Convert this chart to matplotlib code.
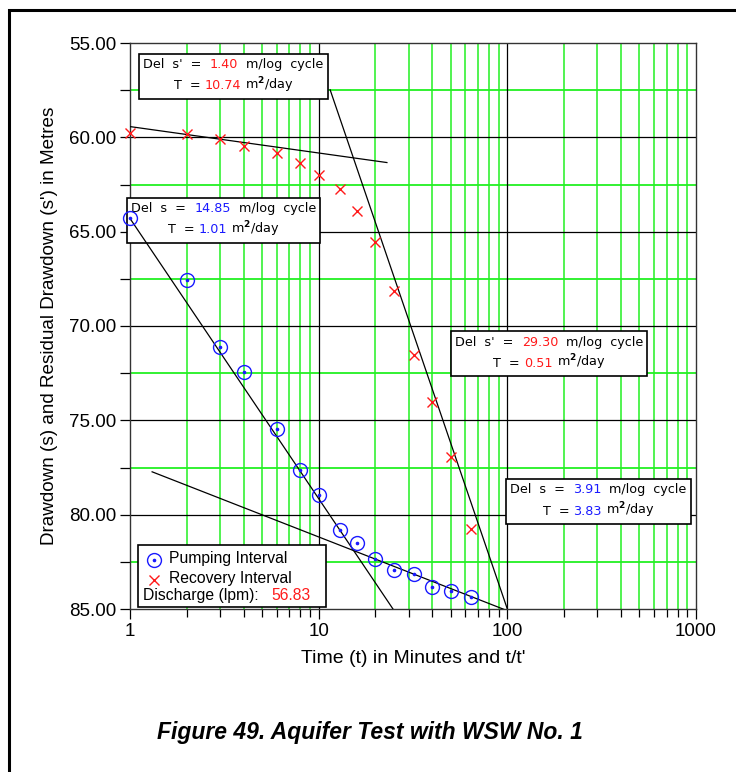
import matplotlib
matplotlib.use("Agg")
import matplotlib.pyplot as plt
import numpy as np
from matplotlib.offsetbox import TextArea, HPacker, VPacker, AnnotationBbox, DrawingArea
from matplotlib.lines import Line2D
from matplotlib.patches import Rectangle
from matplotlib.ticker import FixedLocator, LogLocator, NullFormatter, FuncFormatter

plt.rcParams['font.family'] = ['Liberation Sans', 'DejaVu Sans']

# ---- data ----
time_min = [1, 2, 3, 4, 6, 8, 10, 13, 16, 20, 25, 32, 40, 50, 64]
pumping_s = [64.27, 67.56, 71.11, 72.43, 75.46, 77.63, 78.95, 80.81, 81.50,
             82.35, 82.93, 83.14, 83.83, 84.04, 84.36]
t_ratio = [1, 2, 3, 4, 6, 8, 10, 13, 16, 20, 25, 32, 40, 50, 64]
recovery_s = [59.77, 59.82, 60.09, 60.46, 60.83, 61.36, 62.00, 62.74, 63.90,
              65.55, 68.14, 71.53, 74.03, 76.94, 80.75]

# fitted straight lines: (intercept at t=1, slope per log cycle, t_start, t_end)
fit_rec_early = (59.43, 1.40, 1.0, 23.0)
fit_rec_late = (26.40, 29.30, 11.5, 100.0)
fit_pump_early = (64.30, 14.85, 1.0, 24.8)
fit_pump_late = (77.27, 3.91, 1.31, 100.0)

x_ticks = [1, 10, 100, 1000]
y_ticks = [55, 60, 65, 70, 75, 80, 85]
discharge = "56.83"

fig = plt.figure(figsize=(7.36, 7.72), dpi=100)
fig.add_artist(Rectangle((9/736, -0.05), 2.0, (772-10)/772 + 0.05,
                         transform=fig.transFigure, fill=False, lw=2.2,
                         edgecolor='black'))
ax = fig.add_axes([130/736, (772-609)/772, 566/736, 566/772])
ax.set_xscale('log')
ax.set_xlim(1, 1000)
ax.set_ylim(85, 55)

green = '#22f022'
# grid
for dec in [1, 10, 100]:
    for m in range(2, 10):
        ax.axvline(dec*m, color=green, lw=1.1, zorder=0)
for xv in [10, 100]:
    ax.axvline(xv, color='black', lw=0.9, zorder=0.5)
for yv in [57.5, 62.5, 67.5, 72.5, 77.5, 82.5]:
    ax.axhline(yv, color=green, lw=1.3, zorder=0)
for yv in [60, 65, 70, 75, 80]:
    ax.axhline(yv, color='black', lw=0.9, zorder=0.5)

# lines
for b, m, t0, t1 in [fit_rec_early, fit_rec_late, fit_pump_early, fit_pump_late]:
    tt = np.array([t0, t1])
    ax.plot(tt, b + m*np.log10(tt), color='black', lw=0.9, zorder=7, clip_on=True)

# markers
ax.plot(time_min, pumping_s, linestyle='none', marker='o', ms=10, mfc='none',
        mec='#1a1aff', mew=1.0, zorder=8, clip_on=False)
ax.plot(time_min, pumping_s, linestyle='none', marker='o', ms=1.6, color='#1a1aff',
        zorder=8, clip_on=False)
ax.plot(t_ratio, recovery_s, linestyle='none', marker='x', ms=7.5, color='#ff1a1a',
        mew=1.0, zorder=8, clip_on=False)

# ticks
ax.xaxis.set_major_locator(FixedLocator(x_ticks))
ax.xaxis.set_major_formatter(FuncFormatter(lambda v, p: f"{v:g}"))
ax.xaxis.set_minor_locator(LogLocator(base=10, subs=np.arange(2, 10)))
ax.xaxis.set_minor_formatter(NullFormatter())
ax.yaxis.set_major_locator(FixedLocator(y_ticks))
ax.yaxis.set_major_formatter(FuncFormatter(lambda v, p: f"{v:.2f}"))
ax.yaxis.set_minor_locator(FixedLocator([57.5, 62.5, 67.5, 72.5, 77.5, 82.5]))
ax.tick_params(axis='both', which='major', direction='out', length=7, width=0.9,
               labelsize=13.5, pad=3)
ax.tick_params(axis='both', which='minor', direction='out', length=6, width=0.9)
ax.tick_params(axis='y', which='minor', length=7)
for sp in ax.spines.values():
    sp.set_linewidth(1.0)
    sp.set_color('#333333')

ax.set_xlabel("Time (t) in Minutes and t/t'", fontsize=14, labelpad=7)
ax.set_ylabel("Drawdown (s) and Residual Drawdown (s') in Metres", fontsize=13.6,
              labelpad=8)

fig.text(370/736, 1 - 732/772, "Figure 49. Aquifer Test with WSW No. 1",
         fontsize=16.5, fontweight='bold', fontstyle='italic', ha='center', va='center')

# annotation boxes
FS = 9.2
def tbox(label, val1, val2, color, xy):
    tp = dict(fontsize=FS, family='DejaVu Sans')
    row1 = HPacker(children=[TextArea(label, textprops=tp),
                             TextArea(val1, textprops=dict(tp, color=color)),
                             TextArea("  m/log  cycle", textprops=tp)],
                   pad=0, sep=0)
    row2 = HPacker(children=[TextArea("T  = ", textprops=tp),
                             TextArea(val2, textprops=dict(tp, color=color)),
                             TextArea(" m$^{\\mathbf{2}}$/day", textprops=tp)],
                   pad=0, sep=0)
    box = VPacker(children=[row1, row2], align='center', pad=0, sep=3)
    ab = AnnotationBbox(box, xy, xycoords='data', frameon=True, pad=0.3,
                        box_alignment=(0.5, 0.5),
                        bboxprops=dict(boxstyle='square,pad=0.3', fc='white',
                                       ec='black', lw=1.2), zorder=6)
    ax.add_artist(ab)

tbox("Del  s'  =  ", "1.40", "10.74", '#ff1a1a', (3.53, 56.78))
tbox("Del  s  =  ", "14.85", "1.01", '#1a1aff', (3.14, 64.41))
tbox("Del  s'  =  ", "29.30", "0.51", '#ff1a1a', (166.9, 71.48))
tbox("Del  s  =  ", "3.91", "3.83", '#1a1aff', (304.0, 79.32))

# legend box
LF = 11.3
da1 = DrawingArea(16, 14, 0, 0)
da1.add_artist(Line2D([8], [6], marker='o', ms=10, mfc='none', mec='#1a1aff', mew=1.0))
da1.add_artist(Line2D([8], [6], marker='o', ms=1.6, color='#1a1aff'))
da2 = DrawingArea(16, 14, 0, 0)
da2.add_artist(Line2D([8], [6], marker='x', ms=7.5, color='#ff1a1a', mew=1.0))
r1 = HPacker(children=[da1, TextArea("Pumping Interval", textprops=dict(fontsize=LF))], sep=3, pad=0, align='center')
r2 = HPacker(children=[da2, TextArea("Recovery Interval", textprops=dict(fontsize=LF))], sep=3, pad=0, align='center')
r3 = HPacker(children=[TextArea("Discharge (lpm):   ", textprops=dict(fontsize=LF)),
                       TextArea(discharge, textprops=dict(fontsize=LF, color='#ff1a1a')),
                       DrawingArea(8, 2, 0, 0)], sep=0, pad=0)
leg = VPacker(children=[r1, r2, r3], align='left', pad=0, sep=0)
ab = AnnotationBbox(leg, (3.48, 83.25), xycoords='data', frameon=True, pad=0.3,
                    box_alignment=(0.5, 0.5),
                    bboxprops=dict(boxstyle='square,pad=0.3', fc='white', ec='black', lw=1.2),
                    zorder=6)
ax.add_artist(ab)

fig.savefig("out.png", dpi=100)
